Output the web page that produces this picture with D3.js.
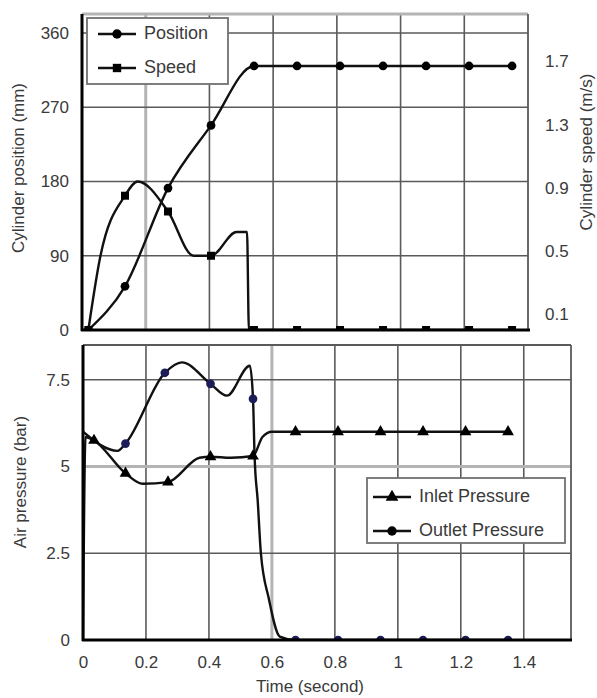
<!DOCTYPE html>
<html>
<head>
<meta charset="utf-8">
<script src="https://cdn.jsdelivr.net/npm/d3@7"></script>
<style>
  body { margin: 0; background: #fff; }
  text { font-family: Arial, "Liberation Sans", sans-serif; fill: #3a3a3a; }
</style>
</head>
<body>
<svg id="graf" width="597" height="698"></svg>
<script>
// --- data ---
// top panel: position in mm (left axis), speed in m/s (right axis)
const posT = [0.02, 0.135, 0.27, 0.405, 0.54, 0.675, 0.81, 0.945, 1.08, 1.215, 1.35]
const posV = [0, 53, 172, 248, 320, 320, 320, 320, 320, 320, 320]
const posMarkT = [0.02, 0.135, 0.27, 0.405, 0.54, 0.675, 0.81, 0.945, 1.08, 1.215, 1.35]

const spdT = [0.02, 0.057, 0.135, 0.175, 0.27, 0.35, 0.405, 0.485, 0.518, 0.524, 0.54, 0.675, 0.81, 0.945, 1.08, 1.215, 1.35]
const spdV = [0, 0.46, 0.85, 0.94, 0.75, 0.47, 0.47, 0.62, 0.62, 0, 0, 0, 0, 0, 0, 0, 0]
const spdMarkT = [0.02, 0.135, 0.27, 0.405, 0.54, 0.675, 0.81, 0.945, 1.08, 1.215, 1.35]

// bottom panel: air pressure in bar
const inT = [0, 0.008, 0.035, 0.135, 0.19, 0.27, 0.37, 0.405, 0.47, 0.54, 0.57, 0.6, 0.675, 0.81, 0.945, 1.08, 1.215, 1.35]
const inV = [0, 5.85, 5.75, 4.8, 4.5, 4.55, 5.25, 5.28, 5.25, 5.3, 5.85, 6.0, 6.0, 6.0, 6.0, 6.0, 6.0, 6.0]
const inMarkT = [0.035, 0.135, 0.27, 0.405, 0.54, 0.675, 0.81, 0.945, 1.08, 1.215, 1.35]

const outT = [0, 0.11, 0.135, 0.26, 0.314, 0.405, 0.457, 0.53, 0.54, 0.545, 0.555, 0.565, 0.59, 0.625, 0.675, 0.81, 0.945, 1.08, 1.215, 1.35]
const outV = [6.0, 5.45, 5.66, 7.7, 8.0, 7.38, 7.04, 7.9, 6.95, 5.3, 4.0, 2.5, 1.2, 0.1, 0, 0, 0, 0, 0, 0]
const outMarkT = [0.135, 0.26, 0.405, 0.54, 0.675, 0.81, 0.945, 1.08, 1.215, 1.35]

const posTicks = [0, 90, 180, 270, 360]
const spdTicks = [0.1, 0.5, 0.9, 1.3, 1.7]
const presTicks = [0, 2.5, 5, 7.5]
const timeTicks = [0, 0.2, 0.4, 0.6, 0.8, 1, 1.2, 1.4]

// --- setup ---
svg = d3.select('#graf')
dark = '#5a5a5a'
light = '#b4b4b4'

// scales
xTop = d3.scaleLinear().domain([0, 1.4]).range([82, 528])
yPos = d3.scaleLinear().domain([0, 383]).range([330, 14])
ySpd = d3.scaleLinear().domain([0, 2.0]).range([330, 14])

xBot = d3.scaleLinear().domain([0, 1.55]).range([83, 571])
yPres = d3.scaleLinear().domain([0, 8.5]).range([640, 345])

// interpolate a curve at t (for markers that sit on the line)
function valAt(ts, vs, t) {
  i = ts.findIndex(d => d >= t)
  if (i <= 0) return vs[0]
  return vs[i - 1] + (vs[i] - vs[i - 1]) * (t - ts[i - 1]) / (ts[i] - ts[i - 1])
}

defs = svg.append('defs')
defs.append('clipPath').attr('id', 'clipTop').append('rect')
    .attr('x', 82).attr('y', 14).attr('width', 446).attr('height', 316)
defs.append('clipPath').attr('id', 'clipBot').append('rect')
    .attr('x', 83).attr('y', 345).attr('width', 488).attr('height', 295)

// --- grid ---
function vGrid(x, ticks, y0, y1, lightTick) {
  svg.append('g').selectAll('line').data(ticks).join('line')
     .attr('x1', d => x(d)).attr('x2', d => x(d))
     .attr('y1', y0).attr('y2', y1)
     .attr('stroke', d => d == lightTick ? light : dark)
     .attr('stroke-width', d => d == lightTick ? 3 : 1.6)
}
function hGrid(y, ticks, x0, x1, lightTick) {
  svg.append('g').selectAll('line').data(ticks).join('line')
     .attr('y1', d => y(d)).attr('y2', d => y(d))
     .attr('x1', x0).attr('x2', x1)
     .attr('stroke', d => d == lightTick ? light : dark)
     .attr('stroke-width', d => d == lightTick ? 3 : 1.6)
}

vGrid(xTop, [0.2, 0.4, 0.6, 0.8, 1.0, 1.2], 14, 330, 0.2)
hGrid(yPos, [90, 180, 270, 360], 82, 528, null)
vGrid(xBot, [0.2, 0.4, 0.6, 0.8, 1.0, 1.2, 1.4], 345, 640, 0.6)
hGrid(yPres, [2.5, 5, 7.5], 83, 571, 5)

// --- lines ---
function drawLine(clip, x, y, ts, vs) {
  line = d3.line().x(d => x(d[0])).y(d => y(d[1])).curve(d3.curveMonotoneX)
  svg.append('path')
     .attr('clip-path', `url(#${clip})`)
     .attr('d', line(d3.zip(ts, vs)))
     .attr('fill', 'none')
     .attr('stroke', '#111')
     .attr('stroke-width', 2.4)
}

drawLine('clipTop', xTop, yPos, posT, posV)
drawLine('clipTop', xTop, ySpd, spdT, spdV)
drawLine('clipBot', xBot, yPres, inT, inV)
drawLine('clipBot', xBot, yPres, outT, outV)

// --- markers ---
function drawMarks(clip, x, y, ts, curveT, curveV, type, size, color) {
  svg.append('g').attr('clip-path', `url(#${clip})`)
     .selectAll('path').data(ts).join('path')
     .attr('transform', d => `translate(${x(d)}, ${y(valAt(curveT, curveV, d))})`)
     .attr('d', d3.symbol().type(type).size(size))
     .attr('fill', color)
}

drawMarks('clipTop', xTop, yPos, posMarkT, posT, posV, d3.symbolCircle, 60, '#000')
drawMarks('clipTop', xTop, ySpd, spdMarkT, spdT, spdV, d3.symbolSquare, 64, '#000')
drawMarks('clipBot', xBot, yPres, inMarkT, inT, inV, d3.symbolTriangle, 60, '#000')
drawMarks('clipBot', xBot, yPres, outMarkT, outT, outV, d3.symbolCircle, 60, '#1c1c58')

// --- borders ---
// top panel
svg.append('line').attr('x1', 82).attr('x2', 528).attr('y1', 14).attr('y2', 14)
   .attr('stroke', light).attr('stroke-width', 3)
svg.append('line').attr('x1', 528).attr('x2', 528).attr('y1', 14).attr('y2', 331)
   .attr('stroke', dark).attr('stroke-width', 1.8)
svg.append('line').attr('x1', 82).attr('x2', 82).attr('y1', 14).attr('y2', 331)
   .attr('stroke', '#000').attr('stroke-width', 3)
svg.append('line').attr('x1', 81).attr('x2', 530).attr('y1', 330).attr('y2', 330)
   .attr('stroke', '#000').attr('stroke-width', 3)
// bottom panel
svg.append('line').attr('x1', 83).attr('x2', 571).attr('y1', 345).attr('y2', 345)
   .attr('stroke', dark).attr('stroke-width', 1.8)
svg.append('line').attr('x1', 571).attr('x2', 571).attr('y1', 345).attr('y2', 641)
   .attr('stroke', dark).attr('stroke-width', 1.8)
svg.append('line').attr('x1', 83).attr('x2', 83).attr('y1', 345).attr('y2', 641)
   .attr('stroke', '#000').attr('stroke-width', 3)
svg.append('line').attr('x1', 82).attr('x2', 572).attr('y1', 640).attr('y2', 640)
   .attr('stroke', '#000').attr('stroke-width', 3)

// --- axes (labels only) ---
function styleAxis(g) {
  g.select('.domain').remove()
  g.selectAll('text').style('font-size', '17px').attr('fill', '#3a3a3a')
}
fmt = d => String(+d.toFixed(1))

svg.append('g').attr('transform', 'translate(82, 0)')
   .call(d3.axisLeft(yPos).tickValues(posTicks).tickSize(0).tickPadding(13).tickFormat(fmt))
   .call(styleAxis)
svg.append('g').attr('transform', 'translate(528, 0)')
   .call(d3.axisRight(ySpd).tickValues(spdTicks).tickSize(0).tickPadding(17).tickFormat(fmt))
   .call(styleAxis)
svg.append('g').attr('transform', 'translate(83, 0)')
   .call(d3.axisLeft(yPres).tickValues(presTicks).tickSize(0).tickPadding(13).tickFormat(fmt))
   .call(styleAxis)
svg.append('g').attr('transform', 'translate(0, 640)')
   .call(d3.axisBottom(xBot).tickValues(timeTicks).tickSize(0).tickPadding(16).tickFormat(fmt))
   .call(styleAxis)

// axis titles
function title(x, y, rot, txt) {
  svg.append('text')
     .attr('transform', `translate(${x}, ${y}) rotate(${rot})`)
     .attr('text-anchor', 'middle')
     .attr('dominant-baseline', 'middle')
     .style('font-size', '17px')
     .text(txt)
}
title(20, 168, -90, 'Cylinder position (mm)')
title(588, 152, -90, 'Cylinder speed (m/s)')
title(22, 482, -90, 'Air pressure (bar)')
title(310, 688, 0, 'Time (second)')

// --- legends ---
function legend(x, y, w, h, items) {
  lg = svg.append('g')
  lg.append('rect').attr('x', x).attr('y', y).attr('width', w).attr('height', h)
    .attr('fill', '#fff').attr('stroke', '#707070').attr('stroke-width', 1.8)
  items.forEach(it => {
    lg.append('line').attr('x1', it.x0).attr('x2', it.x0 + 38)
      .attr('y1', it.y).attr('y2', it.y).attr('stroke', '#111').attr('stroke-width', 2.4)
    lg.append('path').attr('transform', `translate(${it.x0 + 19}, ${it.y})`)
      .attr('d', d3.symbol().type(it.sym).size(70)).attr('fill', '#000')
    lg.append('text').attr('x', it.x0 + 46).attr('y', it.y)
      .attr('dominant-baseline', 'middle').style('font-size', '18px').text(it.label)
  })
}
legend(87, 18, 141, 66, [
  { x0: 98, y: 34, sym: d3.symbolCircle, label: 'Position' },
  { x0: 98, y: 68, sym: d3.symbolSquare, label: 'Speed' }
])
legend(367, 478, 198, 65, [
  { x0: 373, y: 497, sym: d3.symbolTriangle, label: 'Inlet Pressure' },
  { x0: 373, y: 531, sym: d3.symbolCircle, label: 'Outlet Pressure' }
])
</script>
</body>
</html>
